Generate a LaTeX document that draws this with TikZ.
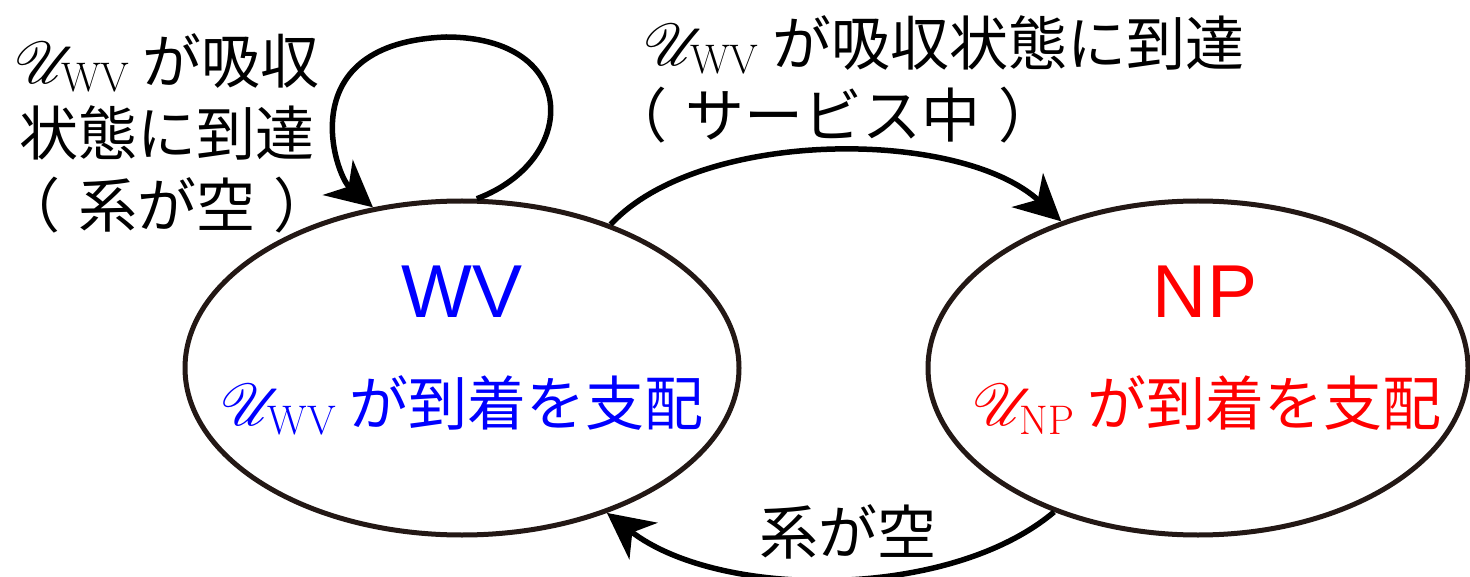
\RequirePackage{fix-cm}
\documentclass[tikz,border=0pt]{standalone}
\usepackage{fontspec}
\usetikzlibrary{shapes.geometric,arrows.meta}
\newfontfamily\jp{Noto Sans CJK JP}
\newfontfamily\lat{Liberation Sans}
\DeclareFontFamily{U}{myrsfs}{\skewchar\font127 }
\DeclareFontShape{U}{myrsfs}{m}{n}{<-> rsfs10}{}
\DeclareMathAlphabet{\myscr}{U}{myrsfs}{m}{n}
\newcommand{\UU}[1]{$\myscr{U}_{\mathrm{#1}}$}
\newcommand{\lpar}{\hspace*{-35pt}（\hspace{18pt}}
\newcommand{\rpar}{\hspace{18pt}）\hspace*{-35pt}}
\definecolor{edgecol}{HTML}{231815}
\tikzset{
  stnode/.style={ellipse, draw=edgecol, line width=5pt, minimum width=#1, minimum height=334pt, inner sep=0pt},
  trans/.style={line width=5.5pt, -{Stealth[length=46pt,width=46pt,inset=14pt]}},
  jtext/.style={font=\jp\fontsize{59}{72}\selectfont, inner sep=0pt},
  title/.style={font=\lat\fontsize{75}{80}\selectfont, inner sep=0pt},
}
\begin{document}
\begin{tikzpicture}[x=1pt,y=-1pt]
\useasboundingbox (0,0) rectangle (1470,577);
\node[stnode=554pt] (wv) at (462,368) {};
\node[stnode=540pt] (np) at (1198,368) {};
\node[title, text=blue] (wvt) at (462,292) {WV};
\node[jtext, text=blue] (wvs) at (462,405) {\UU{WV} が到着を支配};
\node[title, text=red] (npt) at (1205,292) {NP};
\node[jtext, text=red] (nps) at (1207,405) {\UU{NP} が到着を支配};
\draw[trans] (wv.85) .. controls (580,160) and (580,37) .. (446,37) .. controls (290,43) and (335,175) .. (wv.119);
\draw[trans] (wv.44.6) .. controls (700,128) and (960,128) .. (np.133.6);
\draw[trans] (np.225) .. controls (950,600) and (720,600) .. (wv.-45);
\node[jtext, align=center] (lab1) at (167,133) {\UU{WV} が吸収\\状態に到達\\\lpar 系が空\rpar};
\node[jtext, align=left, anchor=west] (lab2) at (643,79) {\UU{WV} が吸収状態に到達\\\lpar サービス中\rpar};
\node[jtext] (lab3) at (848,532) {系が空};
\end{tikzpicture}
\end{document}
